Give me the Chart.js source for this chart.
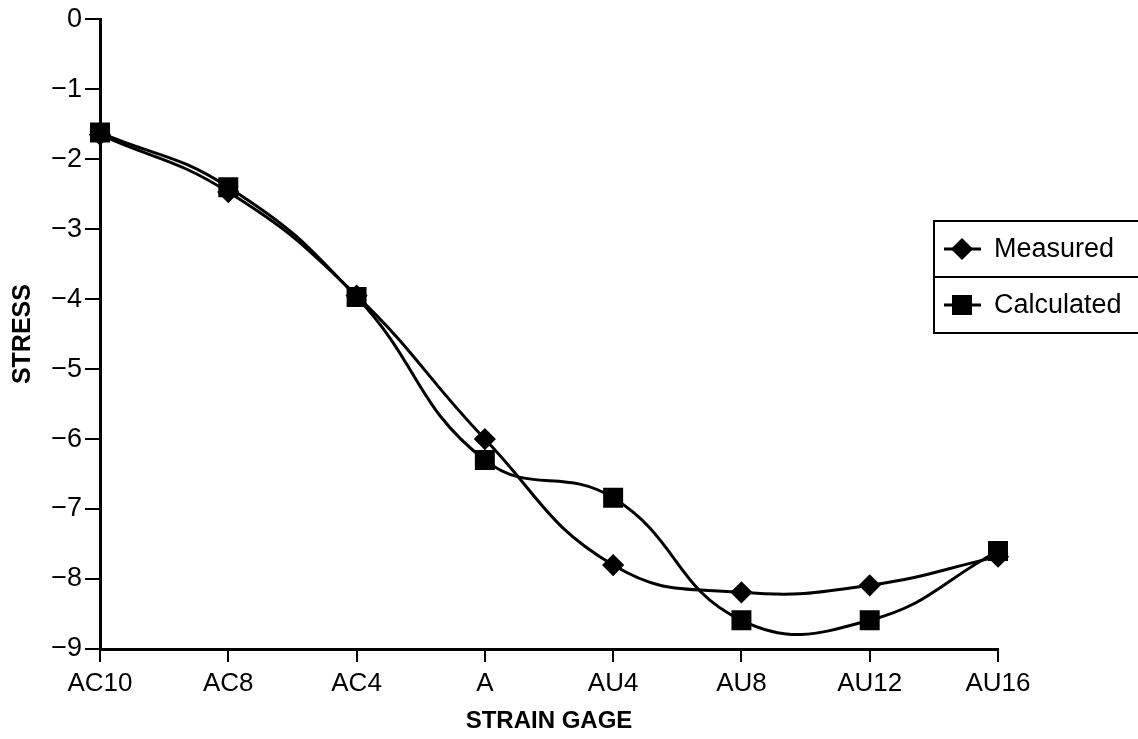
<!DOCTYPE html>
<html>
<head>
<meta charset="utf-8">
<script src="https://cdn.jsdelivr.net/npm/chart.js@4/dist/chart.umd.min.js"></script>
<style>
  html, body { margin: 0; padding: 0; background: #fff; }
  #wrap { width: 1138px; height: 739px; position: relative; }
</style>
</head>
<body>
<div id="wrap"><canvas id="c" width="1138" height="739"></canvas></div>
<script>
const categories = ["AC10", "AC8", "AC4", "A", "AU4", "AU8", "AU12", "AU16"];
const measured   = [-1.65, -2.47, -3.95, -6.0, -7.8, -8.19, -8.09, -7.68];
const calculated = [-1.62, -2.40, -3.97, -6.3, -6.84, -8.59, -8.59, -7.6];
const seriesNames = ["Measured", "Calculated"];
const xTitle = "STRAIN GAGE";
const yTitle = "STRESS";

const FONT = "'Liberation Sans', Arial, sans-serif";

const boxLegend = {
  id: 'boxLegend',
  afterDraw(chart) {
    const ctx = chart.ctx;
    const left = 934, top = 221, rowH = 56, right = 1145;
    ctx.save();
    ctx.strokeStyle = '#000';
    ctx.lineWidth = 2;
    ctx.strokeRect(left, top, right - left, rowH * 2);
    ctx.beginPath();
    ctx.moveTo(left, top + rowH);
    ctx.lineTo(right, top + rowH);
    ctx.stroke();
    chart.data.datasets.forEach((ds, i) => {
      const cy = top + rowH * i + rowH / 2;
      ctx.lineWidth = 3;
      ctx.beginPath();
      ctx.moveTo(944, cy);
      ctx.lineTo(981, cy);
      ctx.stroke();
      ctx.fillStyle = '#000';
      Chart.helpers.drawPoint(ctx, {pointStyle: ds.pointStyle, radius: ds.pointRadius, borderWidth: 1}, 962, cy);
      ctx.fill();
      ctx.font = "27px " + FONT;
      ctx.textBaseline = 'middle';
      ctx.textAlign = 'left';
      ctx.fillText(ds.label, 994, cy + 1);
    });
    ctx.restore();
  }
};

new Chart(document.getElementById('c'), {
  type: 'line',
  data: {
    labels: categories,
    datasets: [
      {
        label: seriesNames[0],
        data: measured,
        borderColor: '#000',
        backgroundColor: '#000',
        borderWidth: 3,
        tension: 0.45,
        pointStyle: 'rectRot',
        pointRadius: 9,
        pointHoverRadius: 9,
        clip: false
      },
      {
        label: seriesNames[1],
        data: calculated,
        borderColor: '#000',
        backgroundColor: '#000',
        borderWidth: 3,
        tension: 0.45,
        pointStyle: 'rect',
        pointRadius: 12,
        pointHoverRadius: 12,
        clip: false
      }
    ]
  },
  options: {
    responsive: false,
    animation: false,
    events: [],
    layout: { padding: { top: 10, right: 140, left: 8, bottom: 3 } },
    plugins: {
      legend: { display: false },
      tooltip: { enabled: false },
      title: { display: false }
    },
    scales: {
      x: {
        type: 'category',
        offset: false,
        grid: { display: true, drawOnChartArea: false, drawTicks: true, tickLength: 13, color: '#000', lineWidth: 2 },
        border: { display: true, color: '#000', width: 3 },
        ticks: { color: '#000', font: { family: FONT, size: 26 }, padding: 6, maxRotation: 0, autoSkip: false },
        title: { display: true, text: xTitle, color: '#000', font: { family: FONT, size: 24, weight: 'bold' }, padding: { top: 2, bottom: 0 } }
      },
      y: {
        min: -9,
        max: 0,
        grid: { display: true, drawOnChartArea: false, drawTicks: true, tickLength: 15, color: '#000', lineWidth: 2 },
        border: { display: true, color: '#000', width: 3 },
        ticks: {
          stepSize: 1,
          color: '#000',
          font: { family: FONT, size: 27 },
          padding: 3,
          callback: (v) => (v < 0 ? '\u2212' + Math.abs(v) : String(v))
        },
        title: { display: true, text: yTitle, color: '#000', font: { family: FONT, size: 25, weight: 'bold' }, padding: { top: 0, bottom: 4 } },
        afterFit: (scale) => { scale.width = 92; }
      }
    }
  },
  plugins: [boxLegend]
});
</script>
</body>
</html>
